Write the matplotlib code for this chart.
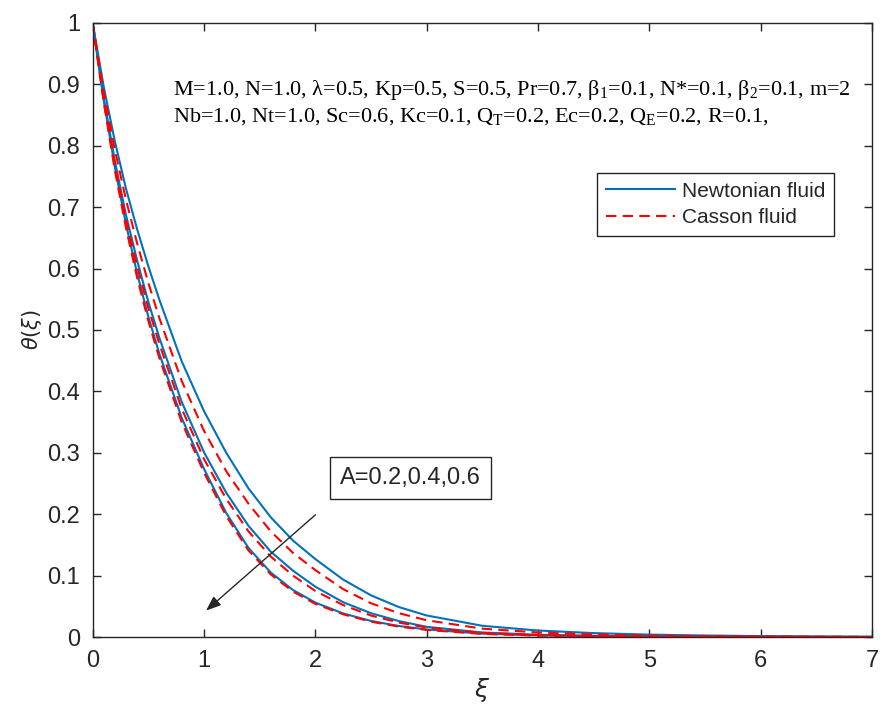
import matplotlib
matplotlib.use("Agg")
import matplotlib.pyplot as plt

xi = [0, 0.1, 0.2, 0.3, 0.4, 0.5, 0.6, 0.8, 1.0, 1.2, 1.4, 1.6, 1.8, 2.0,
      2.25, 2.5, 2.75, 3.0, 3.5, 4.0, 4.5, 5.0, 5.5, 6.0, 6.5, 7.0]

newt_A02 = [1.0, 0.896, 0.807, 0.730, 0.664, 0.604, 0.549, 0.449, 0.368, 0.300, 0.242,
            0.195, 0.157, 0.127, 0.0935, 0.0679, 0.0488, 0.0351, 0.0183, 0.0106, 0.0064,
            0.0039, 0.0025, 0.0015, 0.0009, 0.0005]
newt_A04 = [1.0, 0.878, 0.775, 0.687, 0.613, 0.546, 0.487, 0.383, 0.301, 0.235, 0.181,
            0.139, 0.108, 0.082, 0.0567, 0.0388, 0.026, 0.0166, 0.0074, 0.0037, 0.002,
            0.0011, 0.0006, 0.0003, 0.0002, 0.0001]
newt_A06 = [1.0, 0.874, 0.765, 0.672, 0.592, 0.522, 0.461, 0.357, 0.274, 0.202, 0.145,
            0.105, 0.0765, 0.0561, 0.0384, 0.0262, 0.018, 0.0123, 0.0055, 0.0027, 0.0015,
            0.0008, 0.0005, 0.0003, 0.0001, 0.0]

cass_A02 = [1.0, 0.887, 0.793, 0.712, 0.641, 0.577, 0.519, 0.417, 0.336, 0.270, 0.217,
            0.172, 0.137, 0.109, 0.078, 0.055, 0.0388, 0.0273, 0.0136, 0.0074, 0.0041,
            0.0022, 0.0012, 0.0007, 0.0004, 0.0002]
cass_A04 = [1.0, 0.875, 0.769, 0.68, 0.604, 0.536, 0.477, 0.372, 0.29, 0.225, 0.172,
            0.131, 0.1, 0.075, 0.052, 0.035, 0.0235, 0.0155, 0.0067, 0.0033, 0.0017,
            0.0009, 0.0005, 0.0003, 0.0001, 0.0]
cass_A06 = [1.0, 0.871, 0.76, 0.666, 0.585, 0.515, 0.454, 0.35, 0.268, 0.197, 0.141,
            0.102, 0.074, 0.054, 0.037, 0.025, 0.017, 0.0115, 0.005, 0.0024, 0.0013,
            0.0007, 0.0004, 0.0002, 0.0001, 0.0]

blue = "#0072BD"
red = "#FF0000"
dash = (0, (5, 3))
axcol = '#262626'

plt.rcParams['mathtext.default'] = 'regular'
fig = plt.figure(figsize=(8.82, 7.16), dpi=100)
ax = fig.add_axes([0.105, 0.1103, 0.8837, 0.8577])

for y in (newt_A02, newt_A04, newt_A06):
    ax.plot(xi, y, color=blue, lw=1.5)
for y in (cass_A02, cass_A04, cass_A06):
    ax.plot(xi, y, color=red, lw=1.5, ls=dash)

ax.set_xlim(0, 7)
ax.set_ylim(0, 1)
ax.set_xticks(range(0, 8))
ax.set_yticks([i / 10 for i in range(11)])
ax.set_yticklabels(['0', '0.1', '0.2', '0.3', '0.4', '0.5', '0.6', '0.7', '0.8', '0.9', '1'])
ax.tick_params(direction='in', top=True, right=True, length=6, width=1,
               labelsize=17, colors=axcol)
ax.tick_params(axis='y', pad=9)
ax.tick_params(axis='x', pad=9)
for lab in ax.get_xticklabels() + ax.get_yticklabels():
    lab.set_fontfamily('Liberation Sans')
for s in ax.spines.values():
    s.set_color(axcol)
    s.set_linewidth(1.0)

ax.set_xlabel(r'$\mathit{\xi}$', fontsize=18, color=axcol, labelpad=3)
ax.set_ylabel(r'$\mathit{\theta}(\mathit{\xi})$', fontsize=15, color=axcol, labelpad=2)

h1, = ax.plot([], [], color=blue, lw=1.5)
h2, = ax.plot([], [], color=red, lw=1.5, ls=dash)
leg = ax.legend([h1, h2], ['Newtonian fluid', 'Casson fluid'], loc='upper left',
                bbox_to_anchor=(0.647, 0.7557), borderaxespad=0, fancybox=False,
                edgecolor=axcol, framealpha=1,
                prop={'family': 'Liberation Sans', 'size': 15},
                handlelength=3.35, borderpad=0.42, labelspacing=0.35, handletextpad=0.3)
leg.get_frame().set_linewidth(1.0)
for t in leg.get_texts():
    t.set_color(axcol)

line1 = ("M=1.0, N=1.0, λ=0.5, Kp=0.5, S=0.5, Pr=0.7, β$_{1}$=0.1, N*=0.1, "
         "β$_{2}$=0.1, m=2")
line2 = ("Nb=1.0, Nt=1.0, Sc=0.6, Kc=0.1, Q$_{T}$=0.2, Ec=0.2, Q$_{E}$=0.2, R=0.1,")
ax.text(0.72, 0.891, line1, fontsize=16, family='Liberation Serif',
        va='center', ha='left')
ax.text(0.72, 0.847, line2, fontsize=16, family='Liberation Serif',
        va='center', ha='left')

ax.text(2.22, 0.259, 'A=0.2,0.4,0.6', fontsize=17, family='Liberation Sans',
        va='center', ha='left', color=axcol,
        bbox=dict(boxstyle='square,pad=0.42', fc='white', ec=axcol, lw=1.0))
ax.annotate('', xy=(1.0, 0.04), xytext=(2.02, 0.202),
            arrowprops=dict(arrowstyle='-|>,head_length=0.9,head_width=0.35',
                            color=axcol, lw=1.0))

fig.savefig('out.png', dpi=100)
